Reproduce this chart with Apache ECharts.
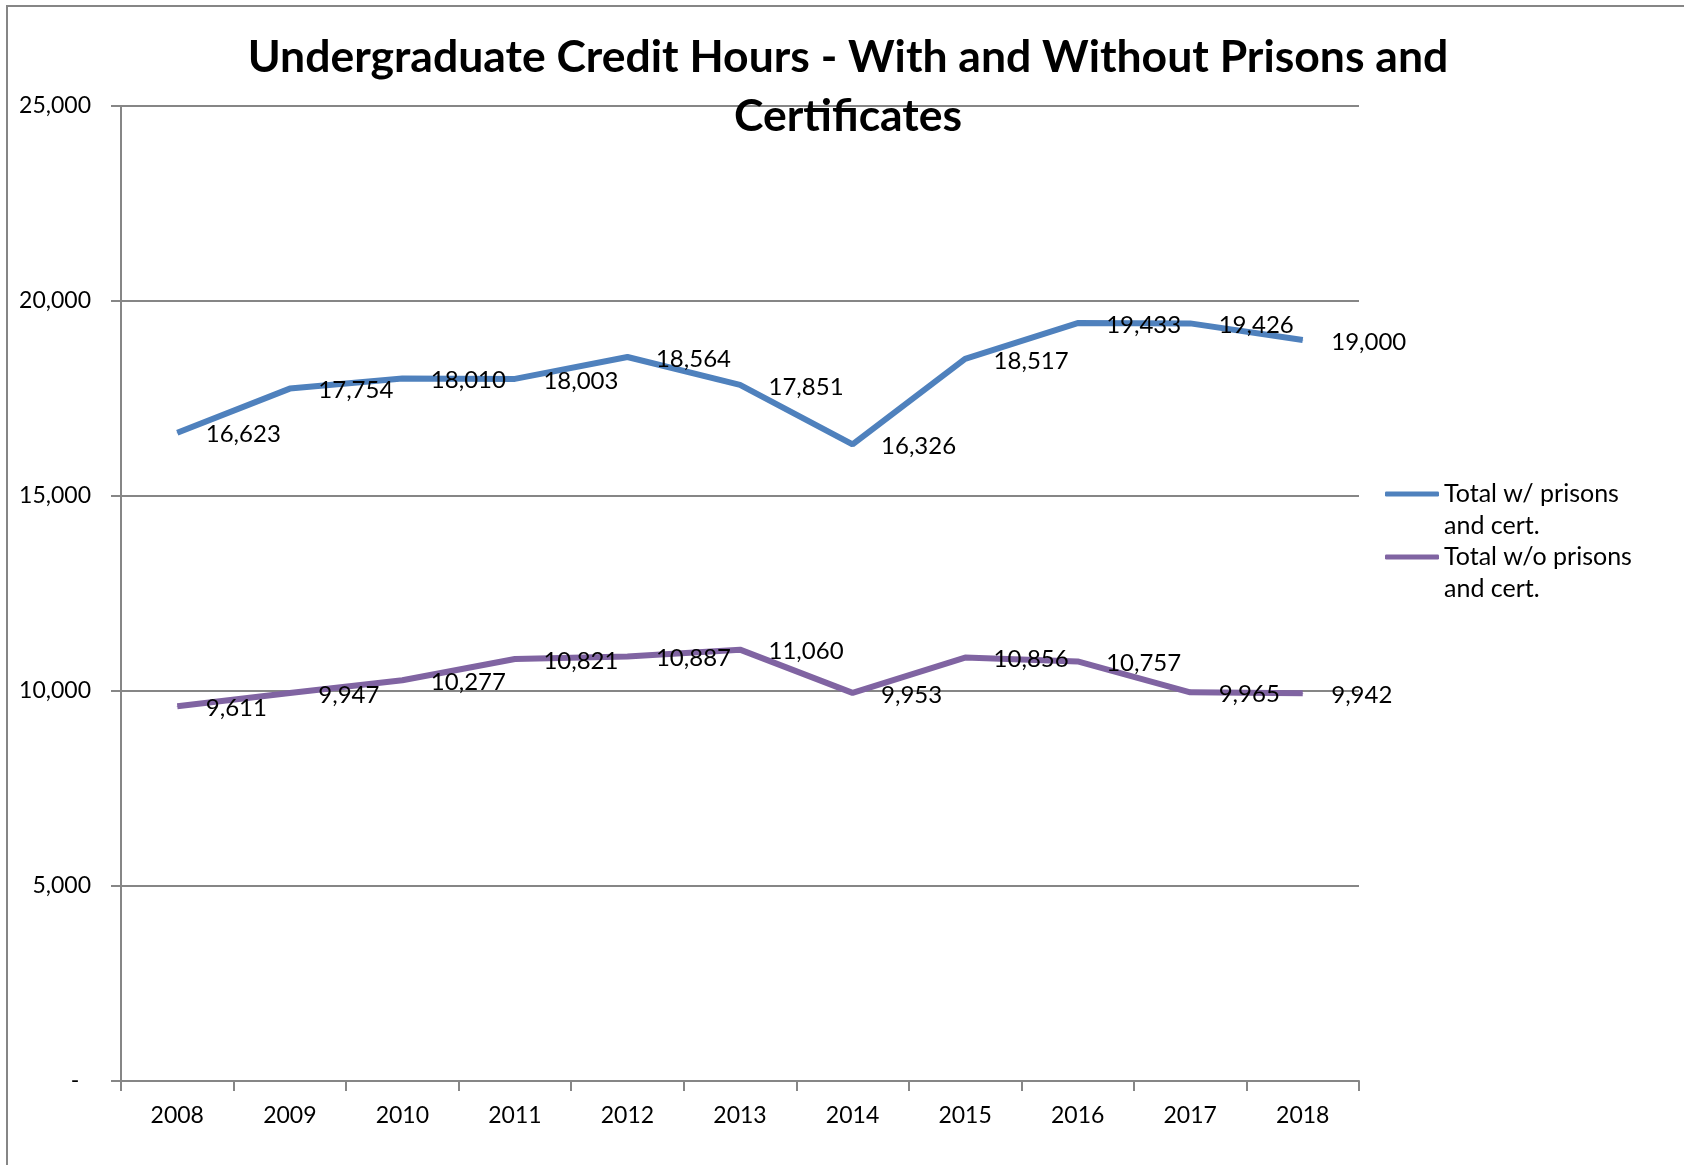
<!DOCTYPE html>
<html>
<head>
<meta charset="utf-8">
<script src="https://cdn.jsdelivr.net/npm/echarts@6/dist/echarts.min.js"></script>
<style>
html,body{margin:0;padding:0;background:#fff;}
#chart{width:1684px;height:1165px;}
</style>
</head>
<body>
<div id="chart"></div>
<script>
const years = ['2008','2009','2010','2011','2012','2013','2014','2015','2016','2017','2018'];
const withPrisons = [16623, 17754, 18010, 18003, 18564, 17851, 16326, 18517, 19433, 19426, 19000];
const withoutPrisons = [9611, 9947, 10277, 10821, 10887, 11060, 9953, 10856, 10757, 9965, 9942];
const seriesNames = ['Total w/ prisons\nand cert.', 'Total w/o prisons\nand cert.'];
const yTicks = [0, 5000, 10000, 15000, 20000, 25000];

const FONT = 'Lato';
const fmt = v => Number(v).toLocaleString('en-US');

const chart = echarts.init(document.getElementById('chart'));
const labelCfg = {
  show: true, position: 'right', distance: 28, offset: [0, 2],
  color: '#000', fontFamily: FONT, fontSize: 24,
  formatter: p => fmt(p.value)
};
chart.setOption({
  animation: false,
  backgroundColor: '#fff',
  graphic: [{
    type: 'rect', shape: {x: 7, y: 6, width: 1720, height: 1200},
    style: {fill: 'none', stroke: '#868686', lineWidth: 2}, silent: true, z: -1
  }],
  title: {
    text: 'Undergraduate Credit Hours - With and Without Prisons and\nCertificates',
    left: 848, top: 28, textAlign: 'center', padding: 0,
    textStyle: {fontFamily: FONT, fontWeight: 'bold', fontSize: 44.5, lineHeight: 59, color: '#000'}
  },
  legend: {
    orient: 'vertical', left: 1385, top: 446, padding: 0,
    itemWidth: 54, itemHeight: 5, itemGap: -33, icon: 'roundRect',
    data: seriesNames,
    formatter: n => '\n' + n,
    textStyle: {fontFamily: FONT, fontSize: 25, color: '#000', lineHeight: 32}
  },
  grid: {left: 121, right: 325, top: 106, bottom: 84, containLabel: false},
  xAxis: {
    type: 'category', data: years, boundaryGap: true,
    axisLine: {lineStyle: {color: '#868686', width: 2}},
    axisTick: {show: true, alignWithLabel: false, length: 10, lineStyle: {color: '#868686', width: 2}},
    axisLabel: {fontFamily: FONT, fontSize: 23, color: '#000', margin: 23}
  },
  yAxis: {
    type: 'value', min: 0, max: 25000, interval: 5000,
    axisLine: {show: true, lineStyle: {color: '#868686', width: 2}},
    axisTick: {show: true, length: 10, lineStyle: {color: '#868686', width: 2}},
    splitLine: {show: true, lineStyle: {color: '#868686', width: 2}},
    axisLabel: {fontFamily: FONT, fontSize: 23, color: '#000', margin: 30,
      formatter: v => v === 0 ? '-  ' : fmt(v)}
  },
  series: [
    {name: seriesNames[0], type: 'line', data: withPrisons, symbol: 'circle', symbolSize: 1, showSymbol: true,
     lineStyle: {color: '#4F81BD', width: 6}, itemStyle: {color: '#4F81BD'}, label: labelCfg},
    {name: seriesNames[1], type: 'line', data: withoutPrisons, symbol: 'circle', symbolSize: 1, showSymbol: true,
     lineStyle: {color: '#8064A2', width: 6}, itemStyle: {color: '#8064A2'}, label: labelCfg}
  ]
});
</script>
</body>
</html>
